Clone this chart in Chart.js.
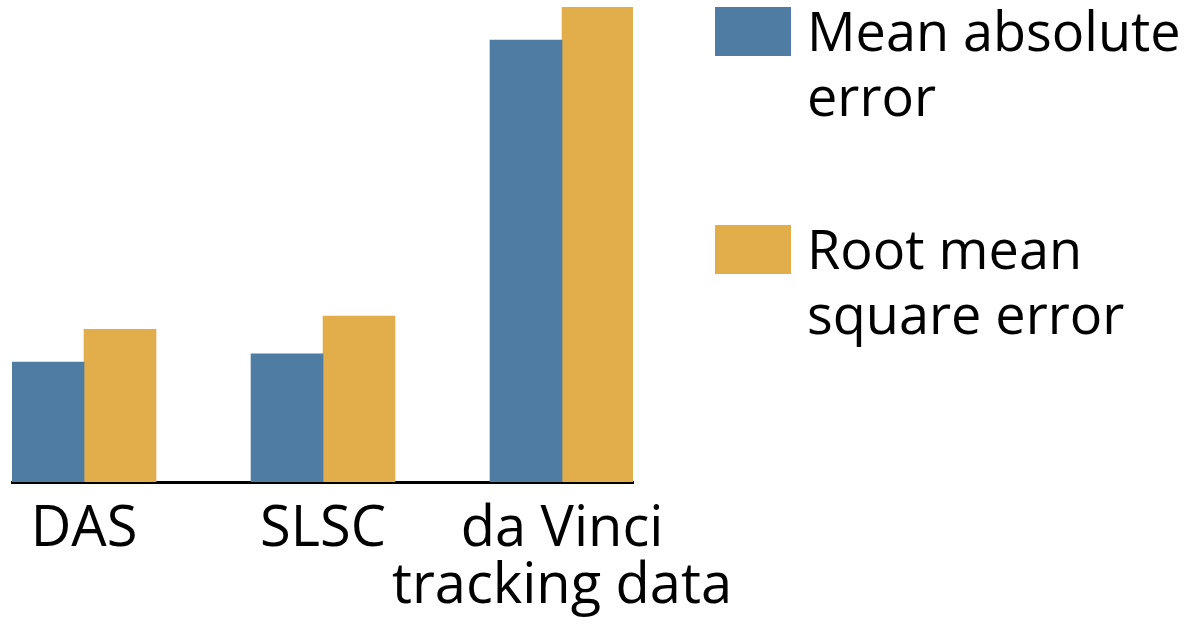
<!DOCTYPE html>
<html>
<head>
<meta charset="utf-8">
<script src="https://cdn.jsdelivr.net/npm/chart.js@4"></script>
<style>
    html, body { margin: 0; padding: 0; background: #fff; }
    #wrap { width: 1200px; height: 626px; }
</style>
</head>
<body>
<div id="wrap"><canvas id="errChart" width="1200" height="626"></canvas></div>
<script>
// categories and values (bar heights, arbitrary units)
const categories = [["DAS"], ["SLSC"], ["da Vinci", "tracking data"]];
const meanAbsError = [2.49, 2.66, 9.17];
const rootMeanSqError = [3.17, 3.44, 9.85];
const seriesNames = [["Mean absolute", "error"], ["Root mean", "square error"]];
const seriesColors = ["#4f7ca3", "#e2ae4b"];

const fontFamily = "'Open Sans', 'DejaVu Sans', sans-serif";

// draws the legend on the right with two-line labels
const sideLegend = {
    id: "sideLegend",
    afterDraw(chart) {
        const ctx = chart.ctx;
        ctx.save();
        ctx.font = "54px " + fontFamily;
        ctx.textBaseline = "alphabetic";
        ctx.textAlign = "left";
        chart.data.datasets.forEach((ds, i) => {
            const top = 7 + i * 218;
            ctx.fillStyle = ds.backgroundColor;
            ctx.fillRect(715, top, 76, 49);
            ctx.fillStyle = "#000";
            seriesNames[i].forEach((line, j) => {
                ctx.fillText(line, 807, top + 44 + j * 65);
            });
        });
        ctx.restore();
    }
};

const toPoints = arr => arr.map((v, i) => ({ x: i, y: v }));

new Chart(document.getElementById("errChart"), {

    type: "bar",

    data: {
        datasets: [
            {
                label: seriesNames[0].join(" "),
                data: toPoints(meanAbsError),
                backgroundColor: seriesColors[0],
                borderWidth: 0,
                barThickness: 72
            },
            {
                label: seriesNames[1].join(" "),
                data: toPoints(rootMeanSqError),
                backgroundColor: seriesColors[1],
                borderWidth: 0,
                barThickness: 72
            }
        ]
    },

    options: {
        responsive: false,
        animation: false,
        layout: {
            padding: { left: 12, right: 567, top: 0, bottom: 0 }
        },
        plugins: {
            legend: { display: false },
            tooltip: { enabled: false }
        },
        scales: {
            x: {
                type: "linear",
                offset: false,
                min: -0.3013,
                max: 2.297,
                grid: { display: false, drawTicks: false, offset: false },
                border: { display: true, color: "#000", width: 3 },
                afterBuildTicks(scale) {
                    scale.ticks = categories.map((c, i) => ({ value: i }));
                },
                afterFit(scale) {
                    scale.height = 144;
                },
                ticks: {
                    color: "#000",
                    padding: 19,
                    autoSkip: false,
                    maxRotation: 0,
                    font: { family: fontFamily, size: 56, lineHeight: 1.02 },
                    callback: value => categories[value]
                }
            },
            y: {
                display: false,
                min: 0,
                max: 10
            }
        }
    },

    plugins: [sideLegend]

});
</script>
</body>
</html>
